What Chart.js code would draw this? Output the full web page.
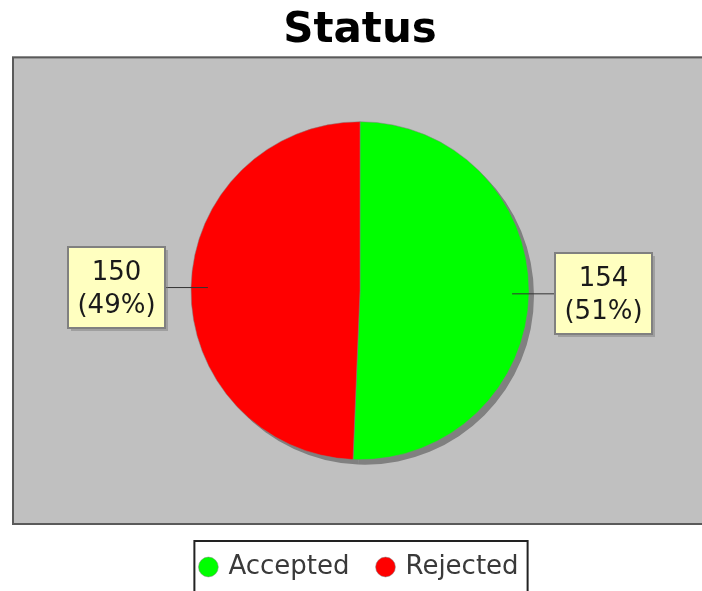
<!DOCTYPE html>
<html>
<head>
<meta charset="utf-8">
<script src="https://cdn.jsdelivr.net/npm/chart.js@4.4.1/dist/chart.umd.min.js"></script>
<style>
    html, body { margin: 0; padding: 0; background: #ffffff; }
    #wrap { width: 702px; height: 591px; }
</style>
</head>
<body>
<div id="wrap"><canvas id="statusChart" width="702" height="591"></canvas></div>
<script>
const chartTitle = 'Status';
const categories = ['Accepted', 'Rejected'];
const counts = [154, 150];
const sliceColors = ['#00FF00', '#FF0000'];

const total = counts.reduce((a, b) => a + b, 0);
const percentLabels = counts.map(v => Math.round(v / total * 100) + '%');

// gray plot background with dark frame; the frame runs past the right edge
const plotBackground = {
    id: 'plotBackground',
    beforeDraw(chart) {
        const a = chart.chartArea;
        const ctx = chart.ctx;
        const left = a.left - 6;
        const right = a.right + 12;
        ctx.save();
        ctx.fillStyle = '#C0C0C0';
        ctx.fillRect(left, a.top, right - left, a.bottom - a.top);
        ctx.strokeStyle = '#5a5a5a';
        ctx.lineWidth = 2;
        ctx.strokeRect(left + 1, a.top + 1, right - left - 2, a.bottom - a.top - 2);
        ctx.restore();
    }
};

// drop shadow under the pie
const pieShadow = {
    id: 'pieShadow',
    beforeDatasetsDraw(chart) {
        const ctx = chart.ctx;
        const meta = chart.getDatasetMeta(0);
        ctx.save();
        ctx.fillStyle = '#808080';
        meta.data.forEach(arc => {
            const p = arc.getProps(['x', 'y', 'startAngle', 'endAngle', 'outerRadius'], true);
            ctx.beginPath();
            ctx.moveTo(p.x + 5, p.y + 5);
            ctx.arc(p.x + 5, p.y + 5, p.outerRadius, p.startAngle, p.endAngle);
            ctx.closePath();
            ctx.fill();
        });
        ctx.restore();
    }
};

// value labels in yellow boxes with link lines
const sliceLabels = {
    id: 'sliceLabels',
    afterDatasetsDraw(chart) {
        const ctx = chart.ctx;
        const meta = chart.getDatasetMeta(0);
        ctx.save();
        ctx.font = '26px "DejaVu Sans"';
        meta.data.forEach((arc, i) => {
            const p = arc.getProps(['x', 'y', 'startAngle', 'endAngle', 'outerRadius'], true);
            const mid = (p.startAngle + p.endAngle) / 2;
            const ax = p.x + Math.cos(mid) * p.outerRadius * 0.9;
            const ay = p.y + Math.sin(mid) * p.outerRadius * 0.9;
            const toRight = Math.cos(mid) >= 0;
            const edgeX = p.x + (toRight ? 1 : -1) * (p.outerRadius + 26);

            const lines = [String(counts[i]), '(' + percentLabels[i] + ')'];
            const tw = Math.max(...lines.map(t => ctx.measureText(t).width));
            const bw = Math.round(tw + 19);
            const bh = 81;
            const bx = toRight ? edgeX : edgeX - bw;
            const by = Math.round(ay - bh / 2);

            ctx.strokeStyle = '#333333';
            ctx.lineWidth = 1;
            ctx.beginPath();
            ctx.moveTo(ax, ay);
            ctx.lineTo(edgeX, ay);
            ctx.stroke();

            ctx.fillStyle = 'rgba(120,120,120,0.45)';
            ctx.fillRect(bx + 3, by + 3, bw, bh);
            ctx.fillStyle = '#FFFFC0';
            ctx.fillRect(bx, by, bw, bh);
            ctx.strokeStyle = '#808080';
            ctx.lineWidth = 2;
            ctx.strokeRect(bx, by, bw, bh);

            ctx.fillStyle = '#1a1a1a';
            ctx.textAlign = 'center';
            ctx.textBaseline = 'middle';
            ctx.fillText(lines[0], bx + bw / 2, by + 26.5);
            ctx.fillText(lines[1], bx + bw / 2, by + 59);
        });
        ctx.restore();
    }
};

// frame around the legend items
const legendFrame = {
    id: 'legendFrame',
    afterDraw(chart) {
        const hb = chart.legend.legendHitBoxes;
        if (!hb || !hb.length) return;
        const first = hb[0];
        const last = hb[hb.length - 1];
        const ctx = chart.ctx;
        ctx.save();
        ctx.strokeStyle = '#222222';
        ctx.lineWidth = 2;
        const left = first.left - 7;
        const right = last.left + last.width + 9;
        const top = first.top - 13;
        ctx.strokeRect(left, top, right - left, 80);
        ctx.restore();
    }
};

const ctx = document.getElementById('statusChart').getContext('2d');
const chart = new Chart(ctx, {
    type: 'pie',
    data: {
        labels: categories,
        datasets: [{
            data: counts,
            backgroundColor: sliceColors,
            borderColor: '#808080',
            borderWidth: 0.5,
            radius: 169
        }]
    },
    options: {
        responsive: false,
        devicePixelRatio: 1,
        animation: false,
        layout: {
            padding: { left: 18, right: 0, top: 0, bottom: 1 }
        },
        plugins: {
            title: {
                display: true,
                text: chartTitle,
                color: '#000000',
                font: { family: 'DejaVu Sans', size: 42, weight: 'bold', lineHeight: 1.2 },
                padding: { top: 6, bottom: 0 }
            },
            legend: {
                display: true,
                position: 'bottom',
                labels: {
                    usePointStyle: true,
                    pointStyle: 'circle',
                    boxWidth: 14,
                    boxHeight: 14,
                    padding: 29,
                    color: '#3a3a3a',
                    font: { family: 'DejaVu Sans', size: 26 }
                }
            },
            tooltip: { enabled: false }
        }
    },
    plugins: [plotBackground, pieShadow, sliceLabels, legendFrame]
});
</script>
</body>
</html>
